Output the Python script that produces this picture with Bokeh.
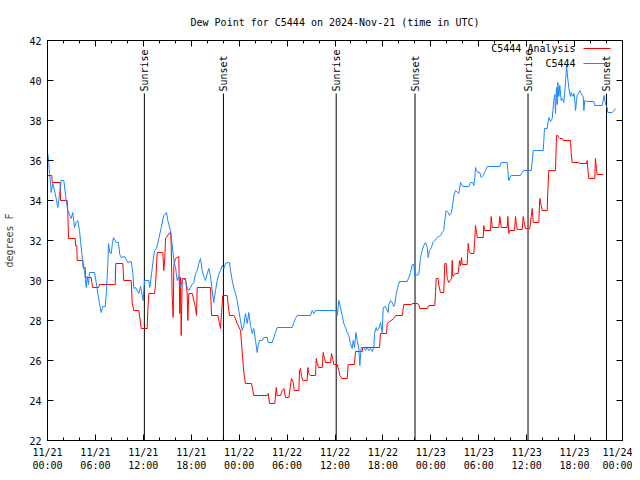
import math
import pandas as pd
from bokeh.plotting import figure
from bokeh.models import (FixedTicker, DatetimeTickFormatter, LinearAxis,
                          DatetimeAxis, Range1d, ColumnDataSource)
from bokeh.embed import file_html
from bokeh.resources import INLINE
from bokeh.core.properties import value

START = pd.Timestamp("2024-11-21 00:00")
END = pd.Timestamp("2024-11-24 00:00")

# ---- observed C5444 dew point (hours since 11/21 00:00 UTC, deg F) ----
obs_hours = [0.04, 0.16, 0.25, 0.38, 0.46, 0.66, 0.88, 1.09, 1.29, 1.50, 1.72, 2.04, 2.34, 2.54, 2.75,
             2.97, 3.17, 3.38, 3.59, 3.79, 4.01, 4.13, 4.30, 4.47, 4.63, 4.85, 4.97, 5.13, 5.26, 5.89,
             6.10, 6.30, 6.51, 6.72, 6.92, 7.23, 7.39, 7.55, 7.64, 7.80, 7.98, 8.14, 8.26, 8.60, 8.89,
             9.05, 9.23, 9.64, 10.06, 10.48, 10.68, 10.81, 11.02, 11.43, 11.65, 11.98, 12.15, 12.69,
             12.81, 13.11, 13.40, 13.65, 13.94, 14.24, 14.56, 14.90, 15.06, 15.40, 15.61, 15.82, 16.03,
             16.24, 16.44, 16.65, 16.87, 17.07, 17.28, 17.49, 17.69, 17.91, 18.12, 18.32, 18.53, 18.75,
             18.95, 19.16, 19.37, 19.57, 19.78, 20.00, 20.20, 20.41, 20.62, 20.82, 21.04, 21.25, 21.45,
             21.66, 21.88, 22.08, 22.29, 22.63, 22.79, 22.92, 23.13, 23.33, 23.54, 23.75, 23.95, 24.17,
             24.38, 24.58, 24.79, 25.01, 25.21, 25.42, 25.63, 25.83, 26.05, 26.26, 26.38, 26.55, 26.88,
             27.09, 27.51, 27.64, 28.14, 28.34, 28.55, 28.76, 30.64, 30.84, 31.05, 31.27, 32.93, 33.15,
             33.35, 33.56, 36.06, 36.28, 36.48, 36.69, 36.90, 37.10, 37.32, 37.53, 37.73, 37.94, 38.15,
             38.28, 38.44, 38.61, 38.78, 38.98, 39.11, 39.28, 39.61, 39.82, 40.03, 40.23, 40.45, 40.66,
             40.86, 40.95, 41.16, 41.29, 41.49, 41.70, 41.91, 42.04, 42.32, 42.66, 42.74, 42.95, 43.16,
             43.36, 43.49, 43.67, 43.92, 44.08, 45.04, 45.24, 45.46, 45.67, 45.87, 45.99, 46.49, 46.71,
             46.92, 47.12, 47.33, 47.55, 47.67, 47.83, 48.08, 48.25, 48.50, 48.80, 49.00, 49.21, 49.42,
             49.62, 49.75, 49.92, 50.17, 50.34, 50.59, 50.75, 50.88, 51.09, 51.50, 51.72, 51.84, 52.00,
             52.76, 52.97, 53.26, 53.38, 53.51, 53.59, 53.72, 53.88, 54.13, 54.31, 54.56, 54.72, 54.85,
             55.06, 56.64, 56.81, 57.56, 57.64, 57.76, 57.89, 58.06, 59.23, 59.44, 59.64, 60.57, 60.69,
             60.82, 62.07, 62.15, 62.23, 62.57, 62.65, 62.77, 62.99, 63.20, 63.40, 63.53, 63.61, 63.74,
             63.83, 63.90, 64.03, 64.15, 64.33, 64.45, 64.58, 64.65, 64.78, 64.90, 64.99, 65.08, 65.20,
             65.28, 65.40, 65.49, 65.58, 65.70, 65.83, 65.90, 65.99, 66.12, 66.24, 66.33, 66.53, 66.65,
             66.83, 66.95, 67.08, 67.16, 67.28, 67.49, 68.41, 68.53, 69.46, 69.58, 69.71, 69.83, 69.96,
             70.08, 70.16, 70.71, 70.92, 71.13]
obs_values = [36.35, 35.9, 35.35, 34.9, 34.4, 34.85, 34.5, 34.1, 33.65, 34.3, 35.0, 35.0, 34.0, 33.5, 33.3,
              33.1, 33.4, 32.65, 32.9, 33.0, 32.5, 32.0, 31.35, 30.65, 30.5, 29.65, 30.2, 29.8, 30.4, 30.4,
              29.9, 29.35, 28.85, 28.4, 28.7, 28.7, 29.5, 30.8, 31.85, 31.4, 31.35, 31.9, 32.15, 31.9, 31.9,
              31.3, 31.15, 31.2, 30.9, 30.95, 30.4, 29.6, 29.65, 29.35, 29.7, 29.0, 30.0, 30.0,
              29.65, 30.6, 31.5, 31.6, 32.1, 32.65, 33.25, 33.4, 33.0, 32.5, 31.8, 31.0, 30.65,
              30.0, 30.2, 29.65, 30.0, 30.1, 30.0, 29.65, 29.5, 29.65, 29.8, 29.9, 30.35, 30.5,
              30.85, 31.1, 30.5, 30.2, 30.0, 30.35, 30.6, 30.2, 29.5, 28.9, 29.5, 30.0, 30.3,
              30.5, 30.75, 30.6, 30.85, 30.9, 30.9, 30.5, 30.0, 29.65, 29.35, 29.0, 28.5, 28.0,
              27.5, 27.75, 28.35, 27.85, 28.4, 27.75, 27.35, 27.6, 27.0, 26.4, 26.75, 27.0, 27.0,
              27.15, 27.15, 26.9, 26.9, 27.15, 27.4, 27.65, 27.65, 27.9, 28.1, 28.25, 28.25, 28.5,
              28.35, 28.5, 28.5, 28.25, 29.0, 28.65, 28.25, 27.85, 27.65, 27.4, 27.25, 26.85, 26.6,
              27.0, 26.65, 27.4, 27.0, 26.6, 25.75, 26.65, 26.65, 26.5, 26.65, 26.5, 26.6, 26.45,
              26.65, 27.35, 27.65, 27.5, 27.6, 27.9, 27.4, 28.65, 28.7, 28.4, 28.8, 29.0, 28.9,
              28.7, 28.8, 29.35, 29.75, 29.95, 29.95, 30.15, 30.4, 30.8, 30.8, 30.25, 30.3, 31.15,
              31.5, 31.75, 31.9, 31.65, 31.15, 31.5, 31.65, 31.9, 32.0, 32.15, 32.2, 32.25, 32.4,
              32.5, 33.0, 33.5, 33.4, 33.25, 33.4, 33.85, 34.25, 34.5, 34.35, 34.9, 34.8, 34.7,
              34.7, 34.9, 34.9, 34.75, 35.15, 35.65, 35.5, 35.4, 35.4, 35.15, 35.25, 35.4, 35.5,
              35.7, 35.7, 35.9, 35.9, 35.5, 35.0, 35.15, 35.25, 35.25, 35.4, 35.5, 35.5, 35.9,
              36.5, 36.5, 37.0, 37.6, 37.6, 37.85, 38.15, 37.95, 38.1, 39.0, 39.3, 38.35, 39.65,
              38.8, 39.9, 39.2, 39.75, 39.0, 39.1, 39.0, 38.9, 39.5, 40.1, 40.8, 40.4, 39.9,
              39.65, 39.35, 39.2, 39.4, 39.25, 39.2, 39.35, 39.2, 38.5, 39.0, 39.25, 39.4, 39.5,
              39.35, 39.25, 39.2, 38.5, 39.0, 38.95, 38.95, 38.75, 38.75, 39.0, 39.25, 38.9, 38.75,
              38.65, 38.4, 38.4, 38.5, 38.6]

# ---- C5444 analysis dew point ----
ana_hours = [0.0, 0.54, 0.59, 1.59, 1.63, 2.47, 2.54, 2.63, 3.47, 3.51, 3.67, 3.72, 4.42, 4.51, 4.72,
             4.76, 5.47, 5.55, 5.67, 6.42, 6.51, 8.48, 8.55, 9.43, 9.55, 10.48, 10.61, 10.81, 11.43,
             11.56, 11.73, 12.48, 12.56, 12.69, 13.40, 13.52, 13.74, 14.44, 14.56, 14.69, 14.78, 15.31,
             15.44, 15.49, 15.61, 15.74, 15.82, 16.03, 16.44, 16.57, 16.65, 16.74, 16.87, 17.28, 17.49,
             17.57, 17.69, 18.12, 18.53, 18.66, 18.75, 20.41, 20.54, 21.33, 21.54, 21.66, 21.79, 21.95,
             22.50, 22.63, 22.79, 23.33, 23.54, 23.75, 24.17, 24.58, 24.79, 25.54, 25.71, 25.83, 27.51,
             27.64, 27.80, 28.46, 28.64, 28.76, 29.18, 29.39, 29.59, 29.80, 30.22, 30.55, 30.77, 30.89,
             31.47, 31.56, 31.68, 31.81, 31.97, 32.52, 32.60, 32.72, 32.93, 33.56, 33.65, 33.77, 33.97,
             34.40, 34.52, 34.69, 34.81, 35.44, 35.56, 35.73, 35.85, 36.28, 36.48, 36.60, 36.90, 37.53,
             37.65, 38.44, 38.57, 39.41, 39.48, 41.57, 41.70, 42.45, 42.54, 43.36, 43.58, 44.42, 44.62,
             45.58, 45.67, 46.29, 46.49, 46.62, 47.55, 47.75, 48.50, 48.59, 48.67, 48.92, 49.00, 49.21,
             49.62, 49.75, 49.92, 50.05, 50.25, 50.59, 50.68, 50.75, 50.88, 51.09, 51.43, 51.59, 51.72,
             51.84, 51.93, 52.55, 52.68, 52.76, 52.97, 53.38, 53.51, 53.59, 53.72, 53.81, 54.56, 54.63,
             54.72, 55.47, 55.56, 55.69, 56.51, 56.64, 56.81, 57.56, 57.64, 57.76, 57.89, 58.48, 58.60,
             58.73, 58.82, 59.44, 59.57, 59.73, 59.86, 60.39, 60.57, 60.69, 60.82, 61.52, 61.64, 61.82,
             61.95, 62.57, 62.65, 62.77, 63.61, 63.74, 63.90, 64.03, 64.15, 64.45, 64.58, 65.49, 65.58,
             65.70, 66.53, 66.65, 67.49, 67.58, 67.65, 67.77, 68.53, 68.61, 68.73, 68.82, 69.58]
ana_values = [35.25, 35.25, 34.9, 34.9, 34.0, 34.0, 33.5, 32.1, 32.1, 31.75, 31.75, 31.0, 31.0, 30.65, 30.65,
              30.15, 30.15, 29.9, 29.65, 29.65, 29.8, 29.8, 30.85, 30.85, 30.0, 30.0, 28.85, 28.5, 28.5,
              28.15, 27.6, 27.6, 28.5, 29.35, 29.35, 29.75, 31.4, 31.4, 30.5, 31.15, 32.1, 32.4,
              32.4, 31.7, 29.25, 28.15, 30.75, 31.1, 31.2, 28.35, 30.15, 27.25, 30.1, 30.1, 29.35,
              28.0, 29.35, 29.35, 28.65, 28.25, 29.65, 29.65, 28.25, 28.25, 27.85, 27.6, 28.4, 29.25,
              29.25, 28.75, 28.25, 28.25, 28.1, 27.85, 27.5, 25.4, 24.85, 24.85, 24.5, 24.25, 24.25,
              24.35, 23.85, 23.85, 24.65, 24.25, 24.25, 24.5, 24.6, 24.15, 24.15, 25.1, 24.9, 24.5,
              24.5, 25.5, 25.6, 25.2, 25.0, 25.0, 25.65, 25.35, 25.25, 25.25, 26.1, 25.85, 25.65,
              25.65, 26.4, 26.1, 25.9, 25.9, 26.35, 26.05, 25.8, 25.8, 25.5, 25.25, 25.1, 25.1,
              25.8, 25.8, 26.45, 26.45, 26.65, 26.65, 27.35, 27.35, 27.85, 28.1, 28.25, 28.25, 28.8,
              28.8, 28.85, 28.85, 28.8, 28.6, 28.6, 28.75, 28.75, 29.4, 30.1, 30.1, 29.75, 29.4,
              29.4, 30.85, 30.85, 30.1, 29.9, 30.1, 31.0, 30.2, 30.25, 30.35, 30.35, 31.0, 30.75,
              31.15, 30.8, 30.8, 31.85, 31.5, 31.35, 31.35, 32.1, 32.75, 32.4, 32.15, 32.15, 32.75,
              32.5, 32.5, 33.2, 32.65, 32.65, 33.2, 32.65, 32.65, 33.2, 32.35, 32.5, 32.5, 33.2,
              32.75, 32.55, 32.55, 33.2, 32.8, 32.6, 32.6, 33.2, 33.6, 32.9, 32.9, 34.1, 33.75,
              33.5, 33.5, 34.5, 35.5, 35.5, 37.25, 37.25, 37.15, 37.1, 37.1, 37.0, 37.0, 36.35,
              35.9, 35.9, 35.85, 35.85, 36.0, 35.6, 35.1, 35.1, 36.1, 35.6, 35.3, 35.3]

sunrise_hours = [12.13, 36.15, 60.17]
sunset_hours = [22.03, 46.02, 70.0]
y_ticks = [22, 24, 26, 28, 30, 32, 34, 36, 38, 40, 42]
x_tick_hours = list(range(0, 73, 6))
x_minor_hours = [h for h in range(0, 73, 2) if h % 6 != 0]

FONT = "DejaVu Sans Mono"


def to_time(hours):
    return [START + pd.Timedelta(hours=h) for h in hours]


def to_ms(hours):
    return [(START + pd.Timedelta(hours=h)).timestamp() * 1000.0 for h in hours]


p = figure(frame_width=575, frame_height=400, x_axis_type="datetime",
           x_range=Range1d(START, END), y_range=Range1d(22, 42),
           output_backend="svg", toolbar_location=None,
           min_border_left=47, min_border_right=10, min_border_top=40, min_border_bottom=32,
           title="Dew Point for C5444 on 2024-Nov-21 (time in UTC)")
p.title.align = "center"
p.title.text_font = FONT
p.title.text_font_size = "10px"
p.title.text_font_style = "normal"
p.title.text_color = "black"
p.title.standoff = 25
p.xgrid.visible = False
p.ygrid.visible = False
p.outline_line_color = "black"
p.outline_line_width = 1
p.background_fill_color = "white"
p.border_fill_color = "white"

xticker = FixedTicker(ticks=to_ms(x_tick_hours), minor_ticks=to_ms(x_minor_hours))
yticker = FixedTicker(ticks=y_ticks, minor_ticks=[])
fmt = "%m/%d\n%H:%M"
xfmt = DatetimeTickFormatter(microseconds=fmt, milliseconds=fmt, seconds=fmt, minsec=fmt,
                             minutes=fmt, hourmin=fmt, hours=fmt, days=fmt, months=fmt,
                             years=fmt, context=None)

xa = p.xaxis[0]
xa.ticker = xticker
xa.formatter = xfmt
ya = p.yaxis[0]
ya.ticker = yticker
ya.axis_label = "degrees F"

for ax in (xa, ya):
    ax.major_tick_in = 6
    ax.major_tick_out = 0
    ax.minor_tick_in = 3
    ax.minor_tick_out = 0
    ax.major_label_text_font = FONT
    ax.major_label_text_font_size = "10px"
    ax.major_label_text_color = "black"
    ax.axis_line_color = "black"
    ax.major_tick_line_color = "black"
    ax.minor_tick_line_color = "black"
    ax.major_label_standoff = 6
ya.axis_label_text_font = FONT
ya.axis_label_text_font_size = "10px"
ya.axis_label_text_font_style = "normal"
ya.axis_label_standoff = 11

# mirrored ticks on top and right
top = DatetimeAxis(ticker=xticker, formatter=xfmt)
right = LinearAxis(ticker=yticker)
for ax in (top, right):
    ax.major_tick_in = 6
    ax.major_tick_out = 0
    ax.minor_tick_in = 3
    ax.minor_tick_out = 0
    ax.major_label_text_font_size = "0px"
    ax.major_label_standoff = 0
    ax.axis_line_color = "black"
    ax.major_tick_line_color = "black"
    ax.minor_tick_line_color = "black"
p.add_layout(top, "above")
p.add_layout(right, "right")

# sunrise / sunset markers
ev_hours = sunrise_hours + sunset_hours
ev_names = ["Sunrise"] * len(sunrise_hours) + ["Sunset"] * len(sunset_hours)
ev = ColumnDataSource(dict(x=to_time(ev_hours), y0=[22] * len(ev_hours),
                           y1=[39.35] * len(ev_hours), label=ev_names))
p.segment(x0="x", x1="x", y0="y0", y1="y1", source=ev, line_color="black", line_width=1)
p.text(x="x", y="y1", text="label", source=ev, angle=math.pi / 2, text_align="left",
       text_baseline="middle", text_font=value(FONT), text_font_size="10px", text_color="black",
       x_offset=0, y_offset=-2)

# series
p.line(to_time(ana_hours), ana_values, line_color="#ff0000", line_width=1)
p.line(to_time(obs_hours), obs_values, line_color="#1a86ff", line_width=1)

# legend (drawn gnuplot-style: text right-aligned, sample line to the right)
leg_labels = ["C5444 Analysis", "C5444"]
leg_colors = ["#ff0000", "#1a86ff"]
leg_y = [41.6, 40.85]
p.text(x=to_time([66.12, 66.12]), y=leg_y, text=leg_labels, text_align="right",
       text_baseline="middle", text_font=value(FONT), text_font_size="10px", text_color="black")
p.segment(x0=to_time([67.12, 67.12]), x1=to_time([70.5, 70.5]), y0=leg_y, y1=leg_y,
          line_color=leg_colors, line_width=1)

open("out.html", "w").write(file_html(p, INLINE))
